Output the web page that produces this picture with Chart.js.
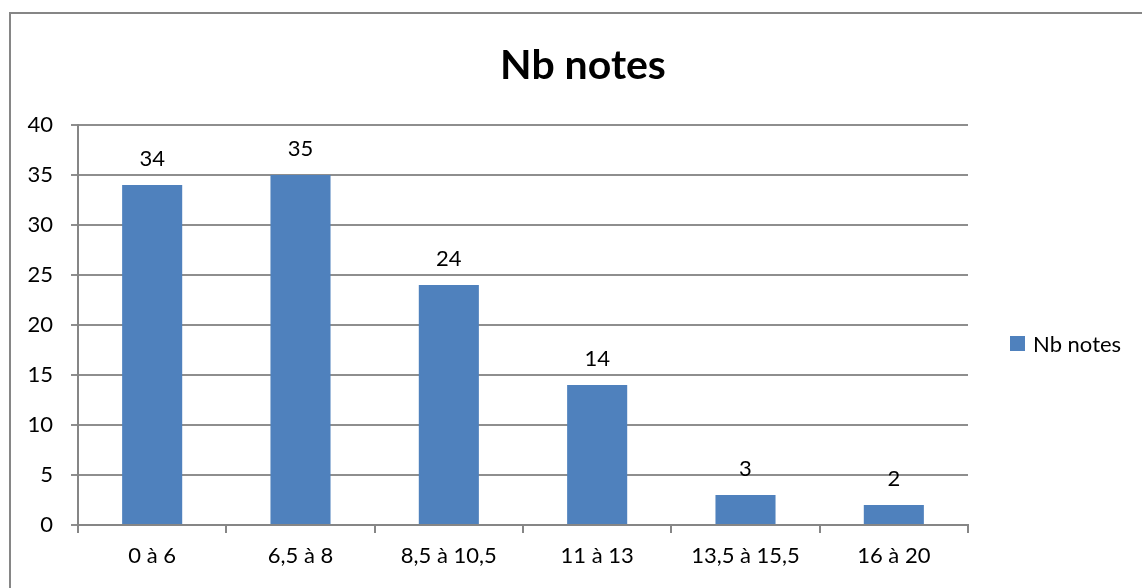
<!DOCTYPE html>
<html><head><meta charset="utf-8">
<script src="https://cdn.jsdelivr.net/npm/chart.js@4.4.0/dist/chart.umd.min.js"></script>
<style>html,body{margin:0;padding:0;background:#fff;overflow:hidden;}</style>
</head><body>
<canvas id="c" width="1142" height="588"></canvas>
<script>
const categories = ["0 à 6", "6,5 à 8", "8,5 à 10,5", "11 à 13", "13,5 à 15,5", "16 à 20"];
const seriesName = "Nb notes";
const values = [34, 35, 24, 14, 3, 2];
const chartTitle = "Nb notes";
const yMin = 0, yMax = 40, yStep = 5;

const FONT = "Lato, 'Liberation Sans', sans-serif";
const GRID = "#8e8e8e";
const AXIS = "#868686";
const BAR = "#4F81BD";

const framePlugin = {
  id: 'frame',
  beforeDraw(chart) {
    const ctx = chart.ctx;
    ctx.save();
    ctx.fillStyle = '#fff';
    ctx.fillRect(0, 0, chart.width, chart.height);
    ctx.strokeStyle = AXIS;
    ctx.lineWidth = 2;
    ctx.strokeRect(10, 13, 1300, 800);
    ctx.restore();
  }
};

const labelsPlugin = {
  id: 'valueLabels',
  afterDatasetsDraw(chart) {
    const ctx = chart.ctx;
    const meta = chart.getDatasetMeta(0);
    ctx.save();
    ctx.fillStyle = '#000';
    ctx.font = "22px " + FONT;
    ctx.textAlign = 'center';
    ctx.textBaseline = 'alphabetic';
    meta.data.forEach((bar, i) => {
      ctx.fillText(String(chart.data.datasets[0].data[i]), bar.x, bar.y - 19);
    });
    ctx.restore();
  }
};

const titleLegendPlugin = {
  id: 'titleLegend',
  afterDraw(chart) {
    const ctx = chart.ctx;
    ctx.save();
    ctx.fillStyle = '#000';
    ctx.font = "bold 41px " + FONT;
    ctx.textAlign = 'center';
    ctx.textBaseline = 'alphabetic';
    ctx.fillText(chartTitle, 583, 79);
    // legend
    ctx.fillStyle = chart.data.datasets[0].backgroundColor;
    ctx.fillRect(1010, 336, 15, 15);
    ctx.fillStyle = '#000';
    ctx.font = "22px " + FONT;
    ctx.textAlign = 'left';
    ctx.fillText(chart.data.datasets[0].label, 1033, 352);
    ctx.restore();
  }
};

new Chart(document.getElementById('c'), {
  type: 'bar',
  data: {
    labels: categories,
    datasets: [{
      label: seriesName,
      data: values,
      backgroundColor: BAR,
      borderWidth: 0,
      categoryPercentage: 1.0,
      barPercentage: 0.405
    }]
  },
  options: {
    responsive: false,
    animation: false,
    devicePixelRatio: 1,
    layout: { padding: { top: 125, right: 174, left: 0, bottom: 0 } },
    plugins: {
      legend: { display: false },
      title: { display: false },
      tooltip: { enabled: false }
    },
    scales: {
      y: {
        min: yMin, max: yMax,
        ticks: { stepSize: yStep, color: '#000', font: { family: FONT, size: 22 }, padding: 18 },
        grid: { color: GRID, lineWidth: 2, tickLength: 7, drawTicks: true },
        border: { color: AXIS, width: 2 },
        afterFit(scale) { scale.width = 78; }
      },
      x: {
        offset: true,
        ticks: { color: '#000', font: { family: FONT, size: 22 }, padding: 10, maxRotation: 0, autoSkip: false },
        grid: { offset: true, drawOnChartArea: false, color: AXIS, lineWidth: 2, tickLength: 8 },
        border: { color: AXIS, width: 2 },
        afterFit(scale) { scale.height = 63; }
      }
    }
  },
  plugins: [framePlugin, labelsPlugin, titleLegendPlugin]
});
</script>
</body></html>
